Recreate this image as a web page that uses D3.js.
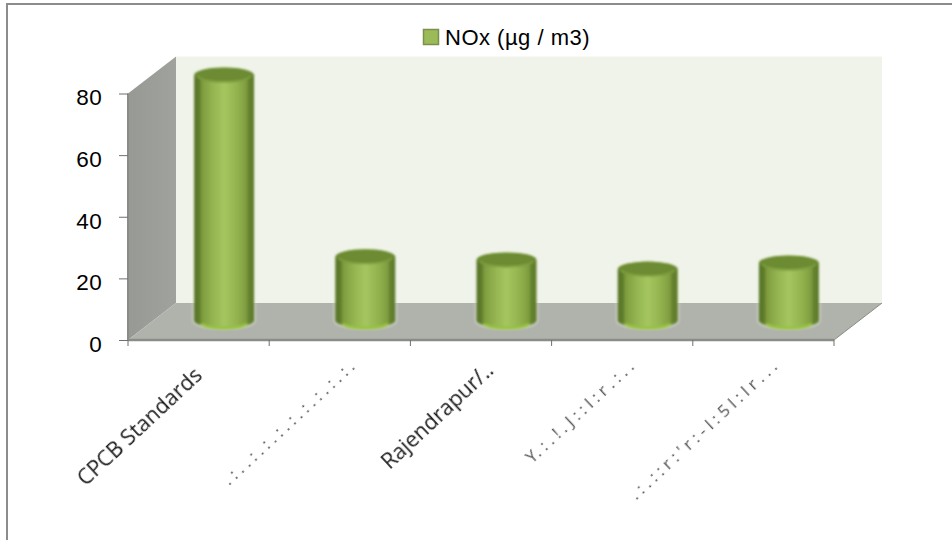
<!DOCTYPE html>
<html><head><meta charset="utf-8">
<script src="https://cdnjs.cloudflare.com/ajax/libs/d3/7.8.5/d3.min.js"></script>
<style>html,body{margin:0;padding:0;background:#fff}svg{display:block}</style>
</head><body><svg id="c" width="952" height="540"></svg>
<script>
const categories = ["CPCB Standards", ". : .   . : . : . : . : . : . : . : .   : .", "Rajendrapur/..", "Y. : . ! . J  : :  l : r . :  .  .", ". : . : :  r : ' r : - l : 5  l : l r .  .  ."];
const values = [80, 21, 20, 17, 19];
const yTicks = [0, 20, 40, 60, 80];
const seriesName = "NOx (µg / m3)";

const svg = d3.select("#c");
const dx = 48, dy = 37;           // 3D depth offset of the plot box
const x = d3.scaleBand().domain(categories).range([128, 834]).paddingInner(0).paddingOuter(0);
const y = d3.scaleLinear().domain([0, 80]).range([340, 93.5]);

const defs = svg.append("defs");
const grad = defs.append("linearGradient").attr("id", "cyl");
[[0,"#587528"],[0.09,"#5f7d2c"],[0.13,"#7e9c3e"],[0.3,"#93b350"],[0.5,"#a5c660"],[0.72,"#92b24e"],[0.87,"#7f9d3f"],[0.91,"#65832f"],[1,"#5c7a2b"]]
  .forEach(([o,c]) => grad.append("stop").attr("offset", o).attr("stop-color", c));
const wall = defs.append("linearGradient").attr("id", "wall").attr("x1",0).attr("x2",1);
wall.append("stop").attr("offset",0).attr("stop-color","#979a94");
wall.append("stop").attr("offset",1).attr("stop-color","#a0a39d");
const blur = defs.append("filter").attr("id","soft").attr("x","-15%").attr("y","-15%").attr("width","130%").attr("height","130%");
blur.append("feGaussianBlur").attr("stdDeviation",0.8);
const blurT = defs.append("filter").attr("id","softT").attr("x","-10%").attr("y","-10%").attr("width","120%").attr("height","120%");
blurT.append("feGaussianBlur").attr("stdDeviation",0.4);

// outer frame: only the top and left edges show
svg.append("line").attr("x1",6).attr("x2",952).attr("y1",4).attr("y2",4).attr("stroke","#8c8c8c").attr("stroke-width",2);
svg.append("line").attr("x1",7).attr("x2",7).attr("y1",3).attr("y2",540).attr("stroke","#8c8c8c").attr("stroke-width",2);

const x0 = x.range()[0], x1 = x.range()[1], yB = y(0), yT = y(80);
const poly = p => p.map(d => d.join(",")).join(" ");
// back wall
svg.append("polygon").attr("points", poly([[x0+dx,yT-dy],[x1+dx,yT-dy],[x1+dx,yB-dy],[x0+dx,yB-dy]])).attr("fill","#eff3ea");
// side wall
svg.append("polygon").attr("points", poly([[x0,yT],[x0+dx,yT-dy],[x0+dx,yB-dy],[x0,yB]])).attr("fill","url(#wall)");
// floor
svg.append("polygon").attr("points", poly([[x0,yB],[x0+dx,yB-dy],[x1+dx,yB-dy],[x1,yB]])).attr("fill","#b0b3ac");
// axis lines
const axisC = "#8a8c88";
svg.append("line").attr("x1",x0).attr("x2",x0).attr("y1",yT).attr("y2",yB+1).attr("stroke",axisC).attr("stroke-width",2);
svg.append("line").attr("x1",x0).attr("x2",x1).attr("y1",yB).attr("y2",yB).attr("stroke",axisC).attr("stroke-width",2.5);
svg.append("line").attr("x1",x1).attr("x2",x1+dx).attr("y1",yB).attr("y2",yB-dy).attr("stroke","#8a8c88").attr("stroke-width",1);

// y axis
const yAxis = d3.axisLeft(y).tickValues(yTicks).tickSize(9).tickPadding(17);
const gy = svg.append("g").attr("transform",`translate(${x0},0)`).call(yAxis);
gy.select(".domain").remove();
gy.selectAll("line").attr("stroke","#6f6f6f");
gy.selectAll("text").attr("font-family","Liberation Sans, Arial, sans-serif").attr("font-size",22.5).attr("fill","#000").attr("dy","0.5em").attr("letter-spacing",0.3);

// x ticks
const tickXs = categories.map(c => x(c)).concat([x1]);
svg.append("g").selectAll("line").data(tickXs).join("line")
  .attr("x1",d=>d).attr("x2",d=>d).attr("y1",yB).attr("y2",yB+6).attr("stroke","#6f6f6f");

// cylinders
const rx = 30, ry = 7.5;
const gh = svg.append("g").attr("filter","url(#soft)");
const gb = svg.append("g").attr("filter","url(#soft)");
categories.forEach((c,i) => {
  const cx = x(c) + x.bandwidth()/2 + 25.5;
  const top = y(values[i]) - 18.5;
  const bot = y(0) - 19.5;
  const body = `M${cx-rx},${top} L${cx-rx},${bot} A${rx},${ry} 0 0 0 ${cx+rx},${bot} L${cx+rx},${top} A${rx},${ry} 0 0 0 ${cx-rx},${top} Z`;
  gh.append("path").attr("d",body).attr("fill","#f4f9e6").attr("stroke","#f4f9e6").attr("stroke-width",4).attr("opacity",0.35);
  const g = gb.append("g");
  g.append("path").attr("d",body).attr("fill","url(#cyl)");
  g.append("path")
    .attr("d",`M${cx-rx+8},${bot+3} A${rx-8},${ry-3} 0 0 0 ${cx+rx-8},${bot+3}`)
    .attr("fill","none").attr("stroke","#97c33f").attr("stroke-width",3);
  g.append("ellipse").attr("cx",cx).attr("cy",top).attr("rx",rx-0.5).attr("ry",ry).attr("fill","#6c8b32");
  g.append("path")
    .attr("d",`M${cx-rx+4},${top+1} A${rx-4},${ry-2} 0 0 0 ${cx+rx-4},${top+1}`)
    .attr("fill","none").attr("stroke","#84a343").attr("stroke-width",1.5);
});

// category labels
const labelAnchors = categories.map(c => x(c) + x.bandwidth()/2);
const labelShiftX = [5, 16, 14, 13, 15];
const labelShiftY = [377, 368, 372, 368, 368];
svg.append("g").selectAll("text").data(categories).join("text")
  .attr("transform",(d,i)=>`translate(${labelAnchors[i]+labelShiftX[i]},${labelShiftY[i]}) rotate(-43)`)
  .attr("text-anchor","end")
  .attr("font-family","Open Sans, sans-serif")
  .attr("font-size",(d,i)=> (i===0||i===2) ? 21.5 : 17)
  .attr("fill",(d,i)=> (i===0||i===2) ? "#1e1e1e" : "#555")
  .attr("filter","url(#softT)")
  .text(d=>d);

// legend
svg.append("rect").attr("x",423.5).attr("y",29.5).attr("width",15).attr("height",15)
  .attr("fill","#9bbb59").attr("stroke","#7c8f4c").attr("stroke-width",1.5);
svg.append("text").attr("x",445).attr("y",45).attr("font-family","Liberation Sans, Arial, sans-serif")
  .attr("font-size",22).attr("letter-spacing",0.5).attr("fill","#000").text(seriesName);
</script></body></html>
